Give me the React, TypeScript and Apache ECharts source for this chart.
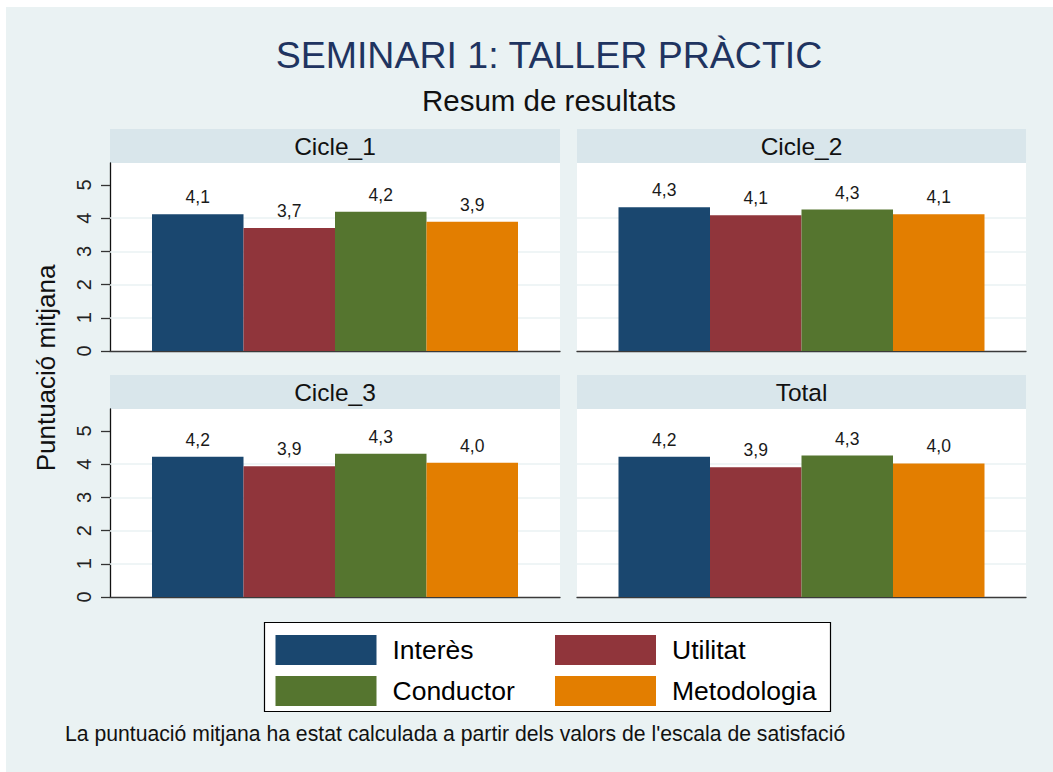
import React, { useEffect, useRef } from "react";
import * as echarts from "echarts";

const PANELS = ["Cicle_1", "Cicle_2", "Cicle_3", "Total"];
const SERIES_NAMES = ["Interès", "Utilitat", "Conductor", "Metodologia"];
const INTERES = [4.12, 4.33, 4.22, 4.22];
const UTILITAT = [3.7, 4.09, 3.94, 3.91];
const CONDUCTOR = [4.19, 4.26, 4.31, 4.26];
const METODOLOGIA = [3.89, 4.12, 4.04, 4.02];
const Y_TICKS = [0, 1, 2, 3, 4, 5];
const GRID_VALUES = [1, 2, 3, 4];
const TITLE = "SEMINARI 1: TALLER PRÀCTIC";
const SUBTITLE = "Resum de resultats";
const Y_TITLE = "Puntuació mitjana";
const NOTE = "La puntuació mitjana ha estat calculada a partir dels valors de l'escala de satisfació";

const COLORS = ["#1A476F", "#90353B", "#55752F", "#E37E00"];
const FONT = "'Liberation Sans', Arial, Helvetica, sans-serif";
const BG = "#EAF2F3";
const STRIP = "#D9E6EB";

const OX = 6;
const OY = 7;
const GRIDS = [
  { left: 110 - OX, top: 163 - OY, width: 450, height: 188 },
  { left: 577 - OX, top: 163 - OY, width: 449, height: 188 },
  { left: 110 - OX, top: 409 - OY, width: 450, height: 188 },
  { left: 577 - OX, top: 409 - OY, width: 449, height: 188 },
];
const STRIP_H = 34;
const Y_MAX = 5.66;

export default function App() {
  const ref = useRef<HTMLDivElement>(null);

  useEffect(() => {
    if (!ref.current) return;
    const chart = echarts.init(ref.current, undefined, { renderer: "svg" });
    const values = [INTERES, UTILITAT, CONDUCTOR, METODOLOGIA];

    const grid = GRIDS.map((g) => ({
      ...g,
      show: true,
      backgroundColor: "#ffffff",
      borderWidth: 0,
      containLabel: false,
    }));

    const xAxis = GRIDS.map((_, i) => ({
      type: "category",
      gridIndex: i,
      data: [""],
      axisLine: { show: true, lineStyle: { color: "#3a3a3a", width: 1.3 } },
      axisTick: { show: false },
      axisLabel: { show: false },
      splitLine: { show: false },
    }));

    const yAxis = GRIDS.map((_, i) => {
      const left = i % 2 === 0;
      return {
        type: "value",
        gridIndex: i,
        min: 0,
        max: Y_MAX,
        interval: 1,
        splitLine: { show: false },
        axisLine: { show: left, lineStyle: { color: "#111", width: 1.3 } },
        axisTick: {
          show: left,
          length: 9,
          customValues: Y_TICKS,
          lineStyle: { color: "#333", width: 1.3 },
        },
        axisLabel: {
          show: left,
          customValues: Y_TICKS,
          rotate: 90,
          margin: 16,
          fontSize: 20,
          fontFamily: FONT,
          color: "#222",
          formatter: (v: number) => (Number.isInteger(v) ? String(v) : ""),
        },
      };
    });

    const series: any[] = [];
    PANELS.forEach((_, p) => {
      SERIES_NAMES.forEach((name, s) => {
        const ser: any = {
          type: "bar",
          name,
          xAxisIndex: p,
          yAxisIndex: p,
          data: [values[s][p]],
          barWidth: 91.5,
          barGap: "0%",
          z: 2,
          itemStyle: { color: COLORS[s] },
          label: {
            show: true,
            position: "top",
            distance: 8,
            fontSize: 17.5,
            fontFamily: FONT,
            color: "#1a1a1a",
            formatter: (prm: any) => Number(prm.value).toFixed(1).replace(".", ","),
          },
          emphasis: { disabled: true },
        };
        if (s === 0) {
          ser.markLine = {
            silent: true,
            z: 1,
            symbol: ["none", "none"],
            label: { show: false },
            emphasis: { disabled: true },
            lineStyle: { color: BG, width: 1.5, type: "solid" },
            data: GRID_VALUES.map((v) => ({ yAxis: v })),
          };
        }
        series.push(ser);
      });
    });

    const graphics: any[] = [];
    GRIDS.forEach((g, i) => {
      graphics.push({
        type: "rect",
        shape: { x: g.left, y: g.top - STRIP_H, width: g.width, height: STRIP_H },
        style: { fill: STRIP },
        silent: true,
      });
      graphics.push({
        type: "text",
        x: g.left + g.width / 2,
        y: g.top - STRIP_H / 2,
        style: {
          text: PANELS[i],
          fontSize: 24.5,
          fontFamily: FONT,
          fill: "#111",
          textAlign: "center",
          textVerticalAlign: "middle",
        },
        silent: true,
      });
    });
    graphics.push({
      type: "text",
      x: 549 - OX,
      y: 55 - OY,
      style: {
        text: TITLE,
        fontSize: 37.5,
        fontFamily: FONT,
        fill: "#1F3460",
        textAlign: "center",
        textVerticalAlign: "middle",
      },
      silent: true,
    });
    graphics.push({
      type: "text",
      x: 549 - OX,
      y: 100 - OY,
      style: {
        text: SUBTITLE,
        fontSize: 29.5,
        fontFamily: FONT,
        fill: "#111",
        textAlign: "center",
        textVerticalAlign: "middle",
      },
      silent: true,
    });
    graphics.push({
      type: "text",
      x: 46 - OX,
      y: 368 - OY,
      rotation: Math.PI / 2,
      style: {
        text: Y_TITLE,
        fontSize: 26,
        fontFamily: FONT,
        fill: "#111",
        textAlign: "center",
        textVerticalAlign: "middle",
      },
      silent: true,
    });
    graphics.push({
      type: "rect",
      shape: { x: 264.5 - OX, y: 622.5 - OY, width: 566, height: 89 },
      style: { fill: "#ffffff", stroke: "#000", lineWidth: 1.2 },
      silent: true,
    });
    graphics.push({
      type: "text",
      x: 65 - OX,
      y: 733 - OY,
      style: {
        text: NOTE,
        fontSize: 21.2,
        fontFamily: FONT,
        fill: "#111",
        textAlign: "left",
        textVerticalAlign: "middle",
      },
      silent: true,
    });

    const legendBase = {
      orient: "vertical",
      top: 635 - OY,
      itemWidth: 101,
      itemHeight: 30,
      itemGap: 11,
      icon: "rect",
      selectedMode: false,
      padding: 0,
      textStyle: { fontSize: 26.5, fontFamily: FONT, color: "#000", padding: [0, 0, 0, 11] },
    };

    chart.setOption({
      animation: false,
      backgroundColor: BG,
      textStyle: { fontFamily: FONT },
      grid,
      xAxis,
      yAxis,
      series,
      legend: [
        { ...legendBase, left: 275.5 - OX, data: [SERIES_NAMES[0], SERIES_NAMES[2]] },
        { ...legendBase, left: 555 - OX, data: [SERIES_NAMES[1], SERIES_NAMES[3]] },
      ],
      graphic: graphics,
    });

    return () => chart.dispose();
  }, []);

  return (
    <div
      ref={ref}
      style={{ position: "absolute", left: OX, top: OY, width: 1053 - OX, height: 772 - OY }}
    />
  );
}
